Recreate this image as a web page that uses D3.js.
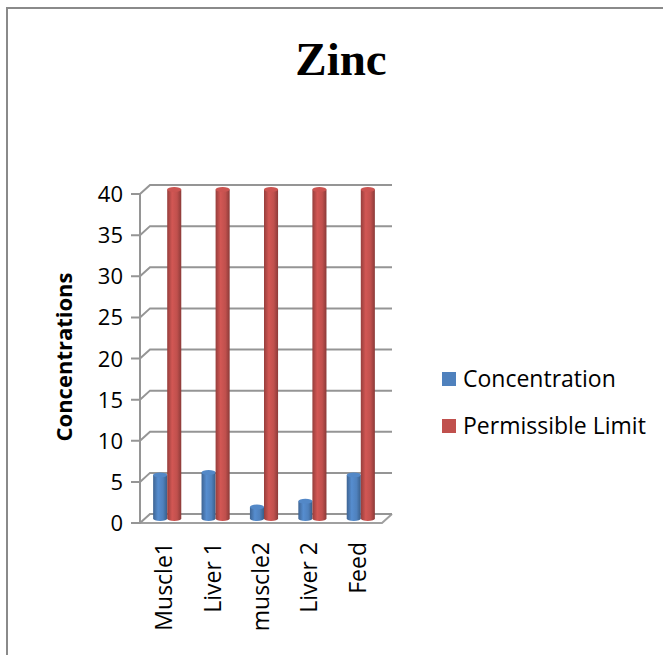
<!DOCTYPE html>
<html>
<head>
<meta charset="utf-8">
<script src="https://cdn.jsdelivr.net/npm/d3@7"></script>
<style>
  body { margin: 0; background: #fff; }
  svg { display: block; }
</style>
</head>
<body>
<svg id="chart" width="663" height="655"></svg>
<script>
// data
const categories = ['Muscle1', 'Liver 1', 'muscle2', 'Liver 2', 'Feed'];
const seriesNames = ['Concentration', 'Permissible Limit'];
const concentration = [5.3, 5.6, 1.4, 2.1, 5.3];
const permissibleLimit = [40, 40, 40, 40, 40];
const yTicks = [0, 5, 10, 15, 20, 25, 30, 35, 40];
const colors = ['#4F81BD', '#C0504D'];

const FONT = '"Open Sans", "Noto Sans", sans-serif';
const svg = d3.select('#chart');

// outer chart border (only top and left visible)
svg.append('path')
  .attr('d', 'M7,655 V8 H663')
  .attr('fill', 'none').attr('stroke', '#8a8a8a').attr('stroke-width', 2);

// title
svg.append('text')
  .attr('x', 341).attr('y', 75)
  .attr('text-anchor', 'middle')
  .style('font-family', '"Liberation Serif", "Times New Roman", serif')
  .style('font-weight', 'bold')
  .style('font-size', '47px')
  .text('Zinc');

// 3d depth offset
const dx = 10, dy = 9;

const x = d3.scaleBand().domain(categories).range([140, 382]);
const y = d3.scaleLinear().domain([0, 40]).range([523, 194]);
const xs = d3.scaleBand().domain(seriesNames).range([0, x.bandwidth()]).paddingOuter(0.72);

const grid = svg.append('g').attr('fill', 'none').attr('stroke', '#959595').attr('stroke-width', 2);

// floor
grid.append('path')
  .attr('d', `M140,${y(0)} H382 L${382 + dx},${y(0) - dy}`)
  .attr('stroke', '#a0a0a0');

// gridlines on side wall + back wall
yTicks.forEach(t => {
  grid.append('path')
    .attr('d', `M131,${y(t)} H140 L${140 + dx},${y(t) - dy} H${382 + dx}`);
});
// front vertical axis
grid.append('line')
  .attr('x1', 140).attr('x2', 140)
  .attr('y1', y(40)).attr('y2', y(0));

// y tick labels
svg.append('g')
  .style('font-family', FONT)
  .style('font-size', '22px')
  .selectAll('text').data(yTicks).enter().append('text')
  .attr('x', 123).attr('y', d => y(d) + 8)
  .attr('text-anchor', 'end')
  .text(d => d);

// y axis title
svg.append('text')
  .attr('transform', 'translate(72,357) rotate(-90)')
  .attr('text-anchor', 'middle')
  .style('font-family', FONT)
  .style('font-weight', 'bold')
  .style('font-size', '22px')
  .text('Concentrations');

// gradients for cylinders
const defs = svg.append('defs');
colors.forEach((c, i) => {
  const g = defs.append('linearGradient').attr('id', 'cyl' + i)
    .attr('x1', '0%').attr('x2', '100%').attr('y1', '0%').attr('y2', '0%');
  const base = d3.color(c);
  g.append('stop').attr('offset', '0%').attr('stop-color', base.darker(0.7));
  g.append('stop').attr('offset', '35%').attr('stop-color', base.brighter(0.25));
  g.append('stop').attr('offset', '70%').attr('stop-color', base);
  g.append('stop').attr('offset', '100%').attr('stop-color', base.darker(0.9));
});

// bars (cylinders)
const rows = categories.map((c, i) => ({ cat: c, vals: [concentration[i], permissibleLimit[i]] }));
const bw = xs.bandwidth();
const rx = bw / 2, ry = 2.5;

rows.forEach(r => {
  r.vals.forEach((v, si) => {
    const x0 = x(r.cat) + xs(seriesNames[si]) + 3;
    const yb = y(0) - dy / 2;
    const yt = y(v) - dy / 2;
    const g = svg.append('g');
    g.append('path')
      .attr('d', `M${x0},${yt} V${yb} A${rx},${ry} 0 0 0 ${x0 + bw},${yb} V${yt} Z`)
      .attr('fill', `url(#cyl${si})`);
    g.append('ellipse')
      .attr('cx', x0 + rx).attr('cy', yt)
      .attr('rx', rx).attr('ry', ry)
      .attr('fill', d3.color(colors[si]).brighter(0.15));
  });
});

// x labels
svg.append('g')
  .style('font-family', FONT)
  .style('font-size', '23px')
  .selectAll('text').data(categories).enter().append('text')
  .attr('transform', d => `translate(${x(d) + x.bandwidth() / 2 + 8},542) rotate(-90)`)
  .attr('text-anchor', 'end')
  .text(d => d);

// legend
const legend = svg.append('g')
  .style('font-family', FONT)
  .style('font-size', '23px');
seriesNames.forEach((s, i) => {
  const ly = 372 + i * 47;
  legend.append('rect').attr('x', 442).attr('y', ly).attr('width', 14).attr('height', 14).attr('fill', colors[i]);
  legend.append('text').attr('x', 463).attr('y', ly + 15).text(s);
});
</script>
</body>
</html>
